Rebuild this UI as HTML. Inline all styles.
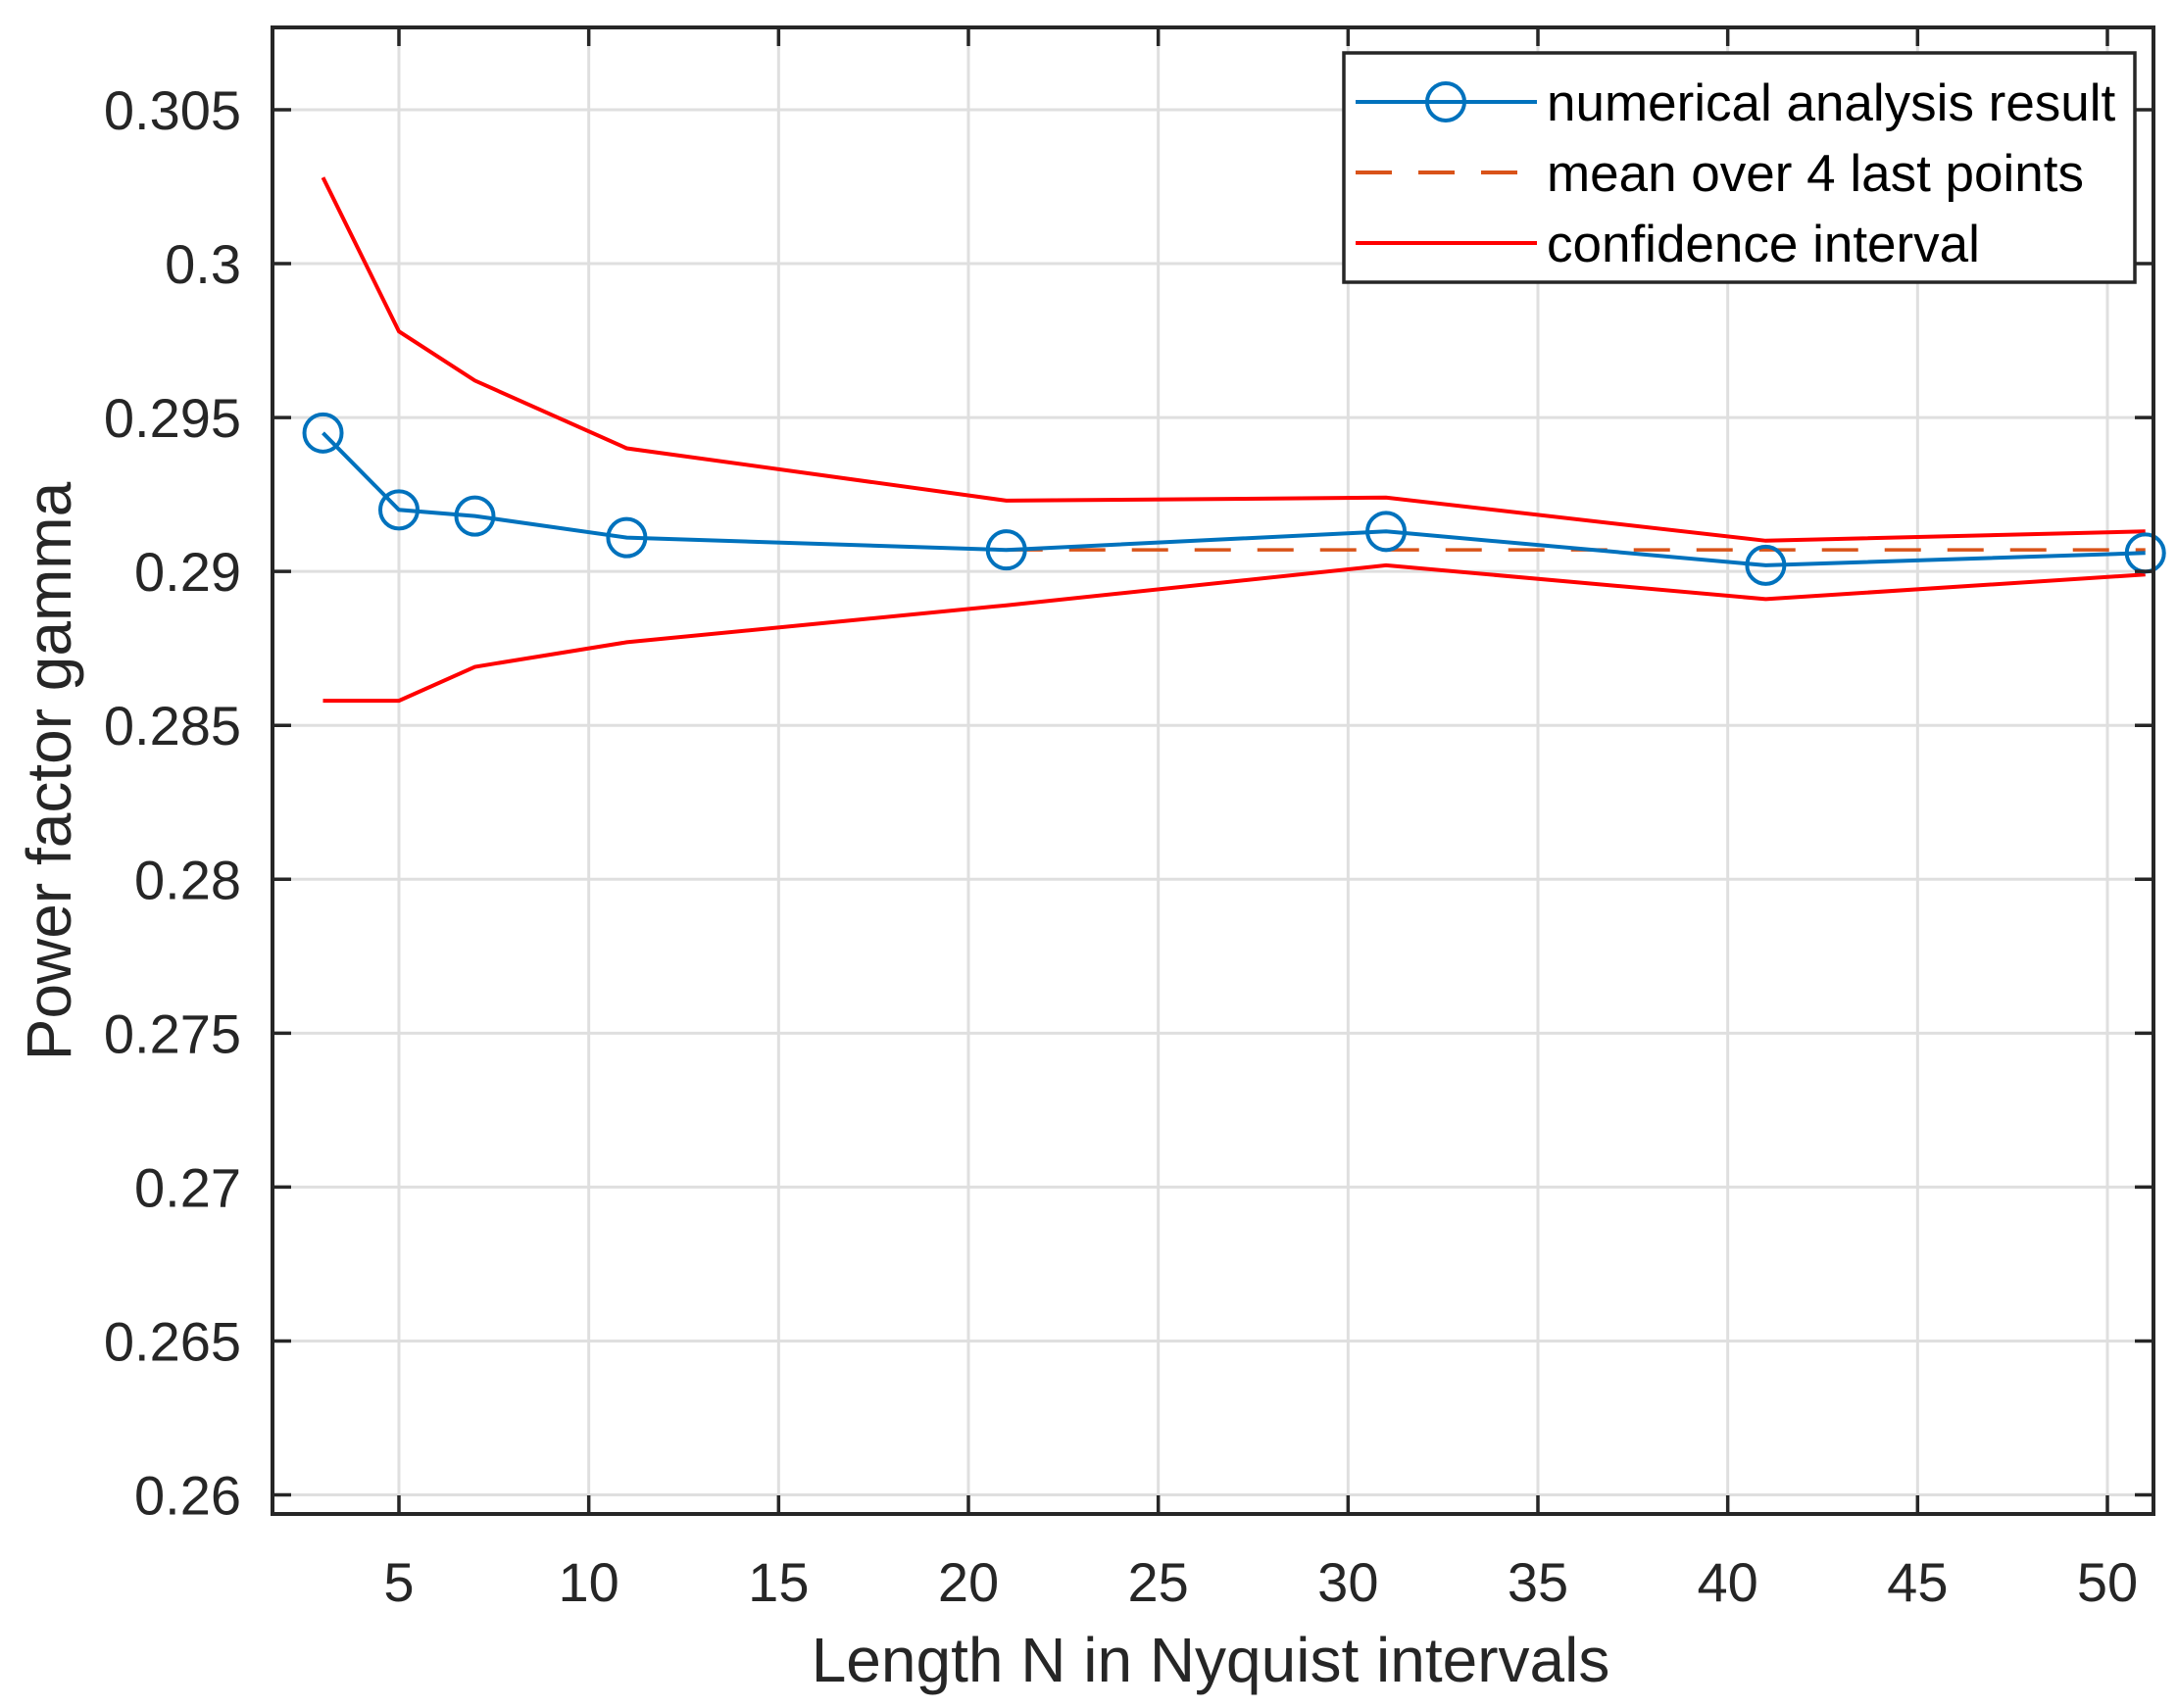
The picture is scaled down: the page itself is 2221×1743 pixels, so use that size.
<!DOCTYPE html>
<html><head><meta charset="utf-8"><style>
html,body{margin:0;padding:0;background:#fff;}
svg{display:block;font-family:"Liberation Sans",Arial,sans-serif;}
</style></head><body>
<svg id="chart" width="2221" height="1743" viewBox="0 0 2221 1743" xmlns="http://www.w3.org/2000/svg">
<rect x="0" y="0" width="2221" height="1743" fill="#fff"/>
<g id="grid"></g>
<g id="series"></g>
<g id="axes"></g>
<text x="1235" y="1716" text-anchor="middle" font-size="64" fill="#262626">Length N in Nyquist intervals</text>
<text transform="translate(72,787) rotate(-90)" text-anchor="middle" font-size="64" fill="#262626">Power factor gamma</text>
<g id="legend"></g>
</svg>
<script>
const nValues = [3, 5, 7, 11, 21, 31, 41, 51];
const gammaValues = [0.2945, 0.2920, 0.2918, 0.2911, 0.2907, 0.2913, 0.2902, 0.2906];
const upperValues = [0.3028, 0.2978, 0.2962, 0.2940, 0.2923, 0.2924, 0.2910, 0.2913];
const lowerValues = [0.2858, 0.2858, 0.2869, 0.2877, 0.2889, 0.2902, 0.2891, 0.2899];
const meanStartN = 21;
const xTicks = [5, 10, 15, 20, 25, 30, 35, 40, 45, 50];
const yTicks = [0.26, 0.265, 0.27, 0.275, 0.28, 0.285, 0.29, 0.295, 0.3, 0.305];
const yTickLabels = ["0.26", "0.265", "0.27", "0.275", "0.28", "0.285", "0.29", "0.295", "0.3", "0.305"];
const legendLabels = ["numerical analysis result", "mean over 4 last points", "confidence interval"];

const NS = "http://www.w3.org/2000/svg";
const L = 278, T = 28, R = 2197, B = 1545;
function xs(v){ return 407 + (v - 5) * (2150 - 407) / 45; }
function ys(v){ return 1525.5 - (v - 0.26) * (1525.5 - 112) / 0.045; }
function mk(tag, attrs, parent){
  const e = document.createElementNS(NS, tag);
  for (const k in attrs) e.setAttribute(k, attrs[k]);
  parent.appendChild(e);
  return e;
}
const grid = document.getElementById('grid');
const axes = document.getElementById('axes');
const series = document.getElementById('series');
const legend = document.getElementById('legend');

xTicks.forEach(t => {
  const x = xs(t);
  const g = mk('line', {x1:x, x2:x, y1:T, y2:B, stroke:'#dfdfdf', 'stroke-width':3}, grid);
  
  
  const tk1 = mk('line', {x1:x, x2:x, y1:B, y2:B-19, stroke:'#262626', 'stroke-width':3.5}, axes);
  
  
  const tk2 = mk('line', {x1:x, x2:x, y1:T, y2:T+19, stroke:'#262626', 'stroke-width':3.5}, axes);
  
  
  const lb = mk('text', {x:x, y:1634, 'text-anchor':'middle', 'font-size':56, fill:'#262626'}, axes);
  
  
  lb.textContent = t;
});
yTicks.forEach((t, i) => {
  const y = ys(t);
  const g = mk('line', {x1:L, x2:R, y1:y, y2:y, stroke:'#dfdfdf', 'stroke-width':3}, grid);
  
  
  const tk1 = mk('line', {x1:L, x2:L+19, y1:y, y2:y, stroke:'#262626', 'stroke-width':3.5}, axes);
  
  
  const tk2 = mk('line', {x1:R, x2:R-19, y1:y, y2:y, stroke:'#262626', 'stroke-width':3.5}, axes);
  
  
  const lb = mk('text', {x:246, y:y+20, 'text-anchor':'end', 'font-size':56, fill:'#262626'}, axes);
  
  
  lb.textContent = yTickLabels[i];
});
const box = mk('rect', {x:L, y:T, width:R-L, height:B-T, fill:'none', stroke:'#262626', 'stroke-width':4}, axes);



function pts(vals){ return nValues.map((n,i)=>xs(n).toFixed(1)+','+ys(vals[i]).toFixed(1)).join(' '); }
const up = mk('polyline', {points:pts(upperValues), fill:'none', stroke:'#ff0000', 'stroke-width':4}, series);


const lo = mk('polyline', {points:pts(lowerValues), fill:'none', stroke:'#ff0000', 'stroke-width':4}, series);



const last4 = gammaValues.slice(-4);
const meanVal = last4.reduce((a,b)=>a+b,0)/last4.length;
const mean = mk('line', {x1:xs(meanStartN), x2:xs(nValues[nValues.length-1]), y1:ys(meanVal), y2:ys(meanVal), stroke:'#d95319', 'stroke-width':3.5, 'stroke-dasharray':'37,27'}, series);



const gl = mk('polyline', {points:pts(gammaValues), fill:'none', stroke:'#0072bd', 'stroke-width':4}, series);


nValues.forEach((n,i) => {
  const c = mk('circle', {cx:xs(n), cy:ys(gammaValues[i]), r:19, fill:'none', stroke:'#0072bd', 'stroke-width':4}, series);
  
  
});

const lb = mk('rect', {x:1371, y:54, width:807, height:234, fill:'#fff', stroke:'#262626', 'stroke-width':3.5}, legend);


const rows = [104, 176, 248];
const styles = [
  {stroke:'#0072bd'}, {stroke:'#d95319', dash:'37,27'}, {stroke:'#ff0000'}
];
rows.forEach((y, i) => {
  const ln = mk('line', {x1:1383, x2:1568, y1:y, y2:y, stroke:styles[i].stroke, 'stroke-width':4}, legend);
  if (styles[i].dash) ln.setAttribute('stroke-dasharray', styles[i].dash);
  
  
  if (i === 0) {
    const c = mk('circle', {cx:1475, cy:y, r:19, fill:'none', stroke:'#0072bd', 'stroke-width':4}, legend);
    
    
  }
  const t = mk('text', {x:1578, y:y+19, 'font-size':53, fill:'#000'}, legend);
  
  
  t.textContent = legendLabels[i];
});
</script>
</body></html>
